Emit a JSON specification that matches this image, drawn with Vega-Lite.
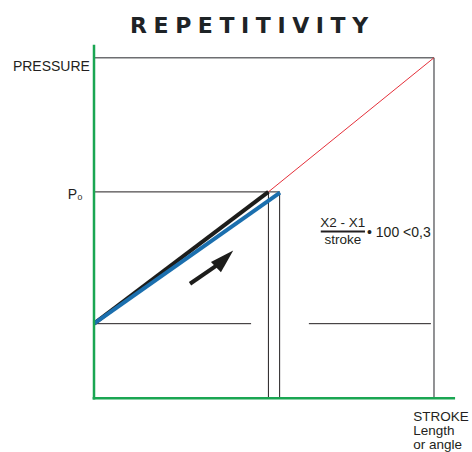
{
  "$schema": "https://vega.github.io/schema/vega-lite/v6.json",
  "width": 472,
  "height": 452,
  "autosize": {"type": "fit", "contains": "padding"},
  "padding": 0,
  "background": "white",
  "config": {"view": {"stroke": null}},
  "encoding": {
    "x": {"field": "x", "type": "quantitative", "scale": {"domain": [-27.65, 111.18], "nice": false, "zero": false}, "axis": null},
    "y": {"field": "y", "type": "quantitative", "scale": {"domain": [-15.2, 116.96], "nice": false, "zero": false}, "axis": null}
  },
  "layer": [
    {
      "data": {"values": [
        {"x": 0, "y": 100, "x2": 100, "y2": 100},
        {"x": 100, "y": 100, "x2": 100, "y2": 0}
      ]},
      "mark": {"type": "rule", "stroke": "#6d6e71", "strokeWidth": 1.5},
      "encoding": {"x2": {"field": "x2"}, "y2": {"field": "y2"}}
    },
    {
      "data": {"values": [
        {"x": 0, "y": 60.6, "x2": 54.7, "y2": 60.6},
        {"x": 51.3, "y": 60.6, "x2": 51.3, "y2": 0},
        {"x": 54.6, "y": 60.4, "x2": 54.6, "y2": 0},
        {"x": 0, "y": 21.9, "x2": 46.2, "y2": 21.9},
        {"x": 63.2, "y": 21.9, "x2": 99.1, "y2": 21.9}
      ]},
      "mark": {"type": "rule", "stroke": "#231f20", "strokeWidth": 1},
      "encoding": {"x2": {"field": "x2"}, "y2": {"field": "y2"}}
    },
    {
      "data": {"values": [{"x": 51.3, "y": 60.6, "x2": 100, "y2": 100}]},
      "mark": {"type": "rule", "stroke": "#e5303a", "strokeWidth": 1},
      "encoding": {"x2": {"field": "x2"}, "y2": {"field": "y2"}}
    },
    {
      "data": {"values": [{"x": 0, "y": 21.9, "x2": 51.3, "y2": 60.6}]},
      "mark": {"type": "rule", "stroke": "#1d1d1b", "strokeWidth": 4},
      "encoding": {"x2": {"field": "x2"}, "y2": {"field": "y2"}}
    },
    {
      "data": {"values": [{"x": 0, "y": 21.9, "x2": 54.7, "y2": 60.4}]},
      "mark": {"type": "rule", "stroke": "#1b6fae", "strokeWidth": 4},
      "encoding": {"x2": {"field": "x2"}, "y2": {"field": "y2"}}
    },
    {
      "data": {"values": [
        {"x": 0, "y": 103.8, "x2": 0, "y2": -0.4},
        {"x": -0.4, "y": 0, "x2": 106.2, "y2": 0}
      ]},
      "mark": {"type": "rule", "stroke": "#1aa652", "strokeWidth": 2.5},
      "encoding": {"x2": {"field": "x2"}, "y2": {"field": "y2"}}
    },
    {
      "data": {"values": [{"x": 28.24, "y": 33.63, "x2": 35.9, "y2": 38.9}]},
      "mark": {"type": "rule", "stroke": "#1d1d1b", "strokeWidth": 4},
      "encoding": {"x2": {"field": "x2"}, "y2": {"field": "y2"}}
    },
    {
      "data": {"values": [{"x": 37.56, "y": 40.12}]},
      "mark": {"type": "point", "shape": "M0,-1L-0.45,0.5L0.45,0.5Z", "size": 1024, "angle": 46, "filled": true, "fill": "#1d1d1b", "opacity": 1, "strokeWidth": 0}
    },
    {
      "data": {"values": [{"x": 66.7, "y": 49.0, "x2": 79.7, "y2": 49.0}]},
      "mark": {"type": "rule", "stroke": "#231f20", "strokeWidth": 2},
      "encoding": {"x2": {"field": "x2"}, "y2": {"field": "y2"}}
    },
    {
      "data": {"values": [{"x": 45.6, "y": 107.3, "label": "R\u2009\u200aE\u2009\u200aP\u2009\u200aE\u2009\u200aT\u2009\u200aI\u2009\u200aT\u2009\u200aI\u2009\u200aV\u2009\u200aI\u2009\u200aT\u2009\u200aY"}]},
      "mark": {"type": "text", "align": "center", "baseline": "alphabetic", "font": "DejaVu Sans", "fontWeight": "bold", "fontSize": 22, "color": "#1e2326"},
      "encoding": {"text": {"field": "label"}}
    },
    {
      "data": {"values": [
        {"x": -1.2, "y": 96.0, "label": "PRESSURE"},
        {"x": -3.3, "y": 58.5, "label": "P₀"}
      ]},
      "mark": {"type": "text", "align": "right", "baseline": "alphabetic", "font": "Liberation Sans", "fontSize": 14, "color": "#231f20"},
      "encoding": {"text": {"field": "label"}}
    },
    {
      "data": {"values": [
        {"x": 73.2, "y": 50.3, "label": "X2 - X1"},
        {"x": 73.2, "y": 45.3, "label": "stroke"}
      ]},
      "mark": {"type": "text", "align": "center", "baseline": "alphabetic", "font": "Liberation Sans", "fontSize": 13.5, "color": "#231f20"},
      "encoding": {"text": {"field": "label"}}
    },
    {
      "data": {"values": [
        {"x": 80.3, "y": 47.3, "label": "• 100 <0,3"}
      ]},
      "mark": {"type": "text", "align": "left", "baseline": "alphabetic", "font": "Liberation Sans", "fontSize": 14, "color": "#231f20"},
      "encoding": {"text": {"field": "label"}}
    },
    {
      "data": {"values": [
        {"x": 93.9, "y": -6.8, "label": "STROKE"},
        {"x": 93.9, "y": -10.85, "label": "Length"},
        {"x": 93.9, "y": -14.9, "label": "or angle"}
      ]},
      "mark": {"type": "text", "align": "left", "baseline": "alphabetic", "font": "Liberation Sans", "fontSize": 13.5, "color": "#231f20"},
      "encoding": {"text": {"field": "label"}}
    }
  ]
}
